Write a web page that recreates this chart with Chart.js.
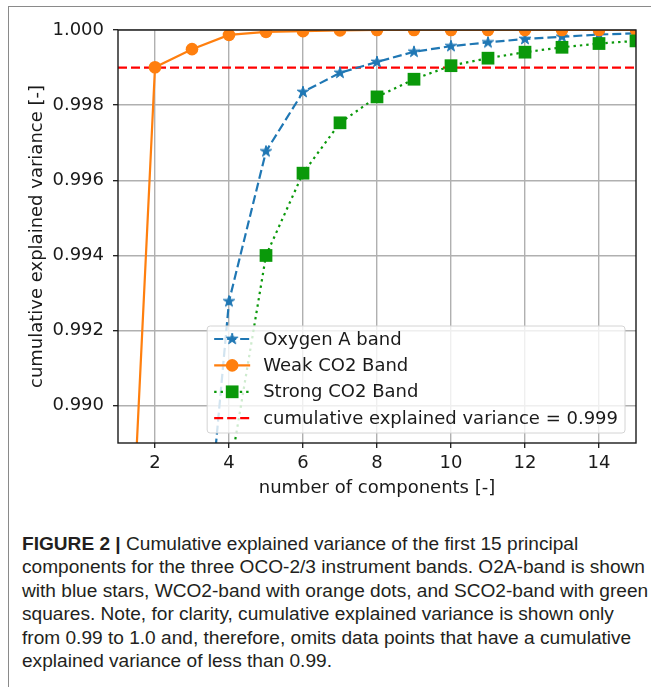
<!DOCTYPE html>
<html>
<head>
<meta charset="utf-8">
<script src="https://cdn.jsdelivr.net/npm/chart.js@4.4.1/dist/chart.umd.min.js"></script>
<style>
  body { margin: 0; background: #fff; width: 651px; height: 687px; position: relative; overflow: hidden; }
  #frame { position: absolute; left: 8px; top: 6px; width: 700px; height: 700px; border-left: 1.5px solid #8a8a8a; border-top: 1.5px solid #8a8a8a; }
  #wrap { position: absolute; left: 10px; top: 8px; width: 641px; height: 502px; }
  #caption { position: absolute; left: 22px; top: 532px; font-family: "Liberation Sans Narrow", "Liberation Sans", Arial, sans-serif; font-size: 19.1px; line-height: 23.4px; color: #231f20; white-space: nowrap; }
  #caption b { font-weight: bold; }
</style>
</head>
<body>
<div id="frame"></div>
<div id="wrap"><canvas id="chart" width="641" height="502"></canvas></div>
<div id="caption">
  <b>FIGURE 2 |</b> Cumulative explained variance of the first 15 principal<br>
  components for the three OCO-2/3 instrument bands. O2A-band is shown<br>
  with blue stars, WCO2-band with orange dots, and SCO2-band with green<br>
  squares. Note, for clarity, cumulative explained variance is shown only<br>
  from 0.99 to 1.0 and, therefore, omits data points that have a cumulative<br>
  explained variance of less than 0.99.
</div>
<script>
// data (points below 0.989 are only partly visible)
const components = [1, 2, 3, 4, 5, 6, 7, 8, 9, 10, 11, 12, 13, 14, 15];
const oxygenA = [null, null, 0.9820, 0.99278, 0.99677, 0.99835, 0.99886, 0.99915, 0.99942, 0.99957, 0.99967, 0.99976, 0.99982, 0.99988, 0.99991];
const weakCO2 = [0.9786, 0.99901, 0.99949, 0.99987, 0.99995, 0.99997, 0.99999, 1.0, 1.0, 1.0, 1.0, 1.0, 1.0, 1.0, 1.0];
const strongCO2 = [null, null, null, 0.9881, 0.99400, 0.99619, 0.99753, 0.99822, 0.99869, 0.99905, 0.99925, 0.99941, 0.99954, 0.99964, 0.99971];
const threshold = 0.999;
const xTicks = [2, 4, 6, 8, 10, 12, 14];
const yTicks = [0.990, 0.992, 0.994, 0.996, 0.998, 1.000];

const BLUE = '#1f77b4', ORANGE = '#ff7f0e', GREEN = '#0a990a', RED = '#ff0000';
const FONT = { family: 'DejaVu Sans', size: 18 };
const LW = 2.2;

function toPoints(arr) {
    return components.map((c, i) => ({ x: c, y: arr[i] }));
}

// filled five point star, like the matplotlib '*' marker
function makeStar(color, r) {
    const s = Math.ceil(r * 2 + 2);
    const c = document.createElement('canvas');
    c.width = s; c.height = s;
    const g = c.getContext('2d');
    g.beginPath();
    for (let i = 0; i < 10; i++) {
        const rad = i % 2 === 0 ? r : r * 0.382;
        const a = -Math.PI / 2 + i * Math.PI / 5;
        const px = s / 2 + rad * Math.cos(a), py = s / 2 + rad * Math.sin(a);
        if (i === 0) g.moveTo(px, py); else g.lineTo(px, py);
    }
    g.closePath();
    g.fillStyle = color; g.fill();
    g.strokeStyle = color; g.lineWidth = 1; g.stroke();
    return c;
}
const star = makeStar(BLUE, 6);

const datasets = [
    { label: 'Oxygen A band', data: toPoints(oxygenA), borderColor: BLUE, backgroundColor: BLUE,
      borderDash: [9, 4], pointStyle: star, pointRadius: 6, order: 3 },
    { label: 'Weak CO2 Band', data: toPoints(weakCO2), borderColor: ORANGE, backgroundColor: ORANGE,
      borderDash: [], pointStyle: 'circle', pointRadius: 6.3, order: 2 },
    { label: 'Strong CO2 Band', data: toPoints(strongCO2), borderColor: GREEN, backgroundColor: GREEN,
      borderDash: [2.4, 4], pointStyle: 'rect', pointRadius: 9, order: 1 },
    { label: 'cumulative explained variance = ' + threshold, data: [{ x: 1, y: threshold }, { x: 15, y: threshold }],
      borderColor: RED, backgroundColor: RED, borderDash: [9, 4], pointRadius: 0, order: 4 }
];
datasets.forEach(d => {
    d.borderWidth = LW;
    d.pointBorderWidth = 0;
    d.pointHoverRadius = d.pointRadius;
    d.tension = 0;
    d.clip = 0;
    d.spanGaps = false;
});

// spines + matplotlib style legend
const framePlugin = {
    id: 'frame',
    afterDatasetsDraw(chart) {
        const { ctx, chartArea: a } = chart;
        ctx.save();
        ctx.strokeStyle = '#1a1a1a';
        ctx.lineWidth = 1.4;
        ctx.strokeRect(a.left, a.top, a.right - a.left, a.bottom - a.top);

        ctx.font = '18px "DejaVu Sans"';
        const sets = chart.data.datasets;
        const textW = Math.max(...sets.map(d => ctx.measureText(d.label).width));
        const w = 56 + textW + 7, h = 107;
        const right = a.right - 11, bottom = a.bottom - 10;
        const left = right - w, top = bottom - h;
        ctx.beginPath();
        ctx.roundRect(left, top, w, h, 3);
        ctx.fillStyle = 'rgba(255,255,255,0.8)';
        ctx.fill();
        ctx.strokeStyle = '#d4d4d4';
        ctx.lineWidth = 1;
        ctx.stroke();

        sets.forEach((d, i) => {
            const y = top + 13 + i * 26.4;
            ctx.beginPath();
            ctx.setLineDash(d.borderDash);
            ctx.strokeStyle = d.borderColor;
            ctx.lineWidth = LW;
            ctx.moveTo(left + 7, y);
            ctx.lineTo(left + 43, y);
            ctx.stroke();
            ctx.setLineDash([]);
            const mx = left + 25;
            ctx.fillStyle = d.backgroundColor;
            if (d.pointStyle === 'circle') {
                ctx.beginPath(); ctx.arc(mx, y, d.pointRadius, 0, Math.PI * 2); ctx.fill();
            } else if (d.pointStyle === 'rect') {
                const hs = d.pointRadius * Math.SQRT1_2;
                ctx.fillRect(mx - hs, y - hs, hs * 2, hs * 2);
            } else if (d.pointStyle && d.pointStyle.width) {
                ctx.drawImage(d.pointStyle, mx - d.pointStyle.width / 2, y - d.pointStyle.height / 2);
            }
            ctx.fillStyle = '#1a1a1a';
            ctx.textBaseline = 'middle';
            ctx.textAlign = 'left';
            ctx.fillText(d.label, left + 56, y + 1);
        });
        ctx.restore();
    }
};

const gridCfg = { color: '#b0b0b0', lineWidth: 1.4, tickLength: 5, tickColor: '#1a1a1a', tickWidth: 1.3, drawTicks: true };

new Chart(document.getElementById('chart'), {
    type: 'line',
    data: { datasets: datasets },
    options: {
        responsive: false,
        animation: false,
        events: [],
        layout: { padding: { top: 22, right: 15, left: 0, bottom: 0 } },
        plugins: { legend: { display: false }, tooltip: { enabled: false } },
        scales: {
            x: {
                type: 'linear', min: 1, max: 15,
                afterBuildTicks: s => { s.ticks = xTicks.map(v => ({ value: v })); },
                afterFit: s => { s.height = 67; },
                grid: gridCfg,
                border: { display: false },
                ticks: { font: FONT, color: '#1a1a1a', padding: 5, maxRotation: 0, autoSkip: false },
                title: { display: true, text: 'number of components [-]', font: FONT, color: '#1a1a1a', padding: { top: 0, bottom: 11 } }
            },
            y: {
                min: 0.98901, max: 1.0,
                afterBuildTicks: s => { s.ticks = yTicks.map(v => ({ value: v })); },
                afterFit: s => { s.width = 108; },
                grid: gridCfg,
                border: { display: false },
                ticks: { font: FONT, color: '#1a1a1a', padding: 9, autoSkip: false, callback: v => v.toFixed(3) },
                title: { display: true, text: 'cumulative explained variance [-]', font: FONT, color: '#1a1a1a', padding: { top: 17, bottom: 0 } }
            }
        }
    },
    plugins: [framePlugin]
});
</script>
</body>
</html>
